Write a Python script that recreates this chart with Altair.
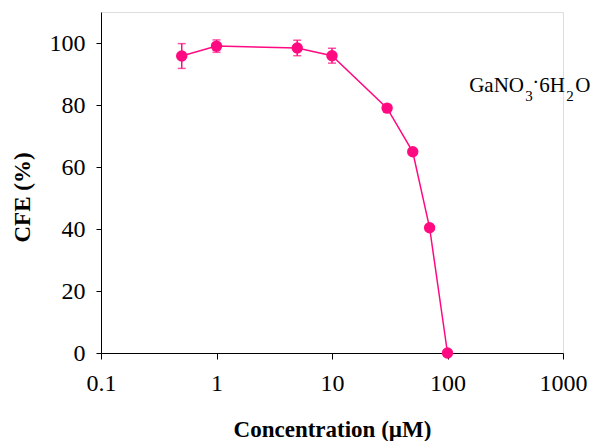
import altair as alt
import pandas as pd

# Colony forming efficiency versus gallium nitrate concentration
concentration = [0.5, 1, 5, 10, 30, 50, 70, 100]
cfe = [95.8, 99.0, 98.4, 95.9, 79.0, 64.9, 40.4, 0.0]
err = [4.0, 2.0, 2.5, 2.4, 0, 0, 0, 0]

x_ticks = [0.1, 1, 10, 100, 1000]
y_ticks = [0, 20, 40, 60, 80, 100]

PINK = "#FF0A80"
FONT = "Liberation Serif"

df = pd.DataFrame({"conc": concentration, "cfe": cfe, "err": err})
df["lo"] = df["cfe"] - df["err"]
df["hi"] = df["cfe"] + df["err"]
df_err = df[df["err"] > 0]

x_scale = alt.Scale(type="log", domain=[0.1, 1000], nice=False)
y_scale = alt.Scale(domain=[0, 110], nice=False, zero=True)

x_axis = alt.Axis(
    title="Concentration (µM)",
    values=x_ticks,
    format="~g",
    tickSize=6,
    labelPadding=12,
    labelFlush=False,
    labelOverlap=False,
    titleBaseline="alphabetic",
    titleY=83,
)
y_axis = alt.Axis(
    title="CFE (%)",
    values=y_ticks,
    tickSize=5,
    labelPadding=11,
    labelFlush=False,
    labelOverlap=False,
    titleAngle=-90,
    titleBaseline="alphabetic",
    titleAlign="center",
    titleX=-72,
    titleY=185,
)

base = alt.Chart(df)

line = base.mark_line(color=PINK, strokeWidth=1.5).encode(
    x=alt.X("conc:Q", scale=x_scale, axis=x_axis),
    y=alt.Y("cfe:Q", scale=y_scale, axis=y_axis),
)

bars = alt.Chart(df_err).mark_rule(color=PINK, strokeWidth=1.5).encode(
    x="conc:Q", y="lo:Q", y2="hi:Q"
)
caps_hi = alt.Chart(df_err).mark_tick(
    color=PINK, orient="horizontal", size=8, thickness=1.5
).encode(x="conc:Q", y="hi:Q")
caps_lo = alt.Chart(df_err).mark_tick(
    color=PINK, orient="horizontal", size=8, thickness=1.5
).encode(x="conc:Q", y="lo:Q")

points = base.mark_circle(color=PINK, size=130, opacity=1).encode(
    x="conc:Q", y="cfe:Q"
)

# Compound label with subscripts, anchored in data coordinates
label_pos = pd.DataFrame({"conc": [154], "cfe": [84.2]})
lab = alt.Chart(label_pos)
pieces = [
    ("GaNO", 21, 0, 0),
    ("3", 15, 56, 9),
    ("·", 21, 63, -3),
    ("6H", 21, 70, 0),
    ("2", 15, 97, 9),
    ("O", 21, 106, 0),
]
label_layers = [
    lab.mark_text(
        text=t, font=FONT, fontSize=fs, align="left", baseline="alphabetic",
        dx=dx, dy=dy, color="black",
    ).encode(x="conc:Q", y="cfe:Q")
    for t, fs, dx, dy in pieces
]

chart = (
    alt.layer(line, bars, caps_hi, caps_lo, points, *label_layers)
    .properties(
        width=462,
        height=341,
        autosize=alt.AutoSizeParams(type="none"),
        padding={"left": 101, "top": 12, "right": 29, "bottom": 88},
    )
    .configure_view(stroke=None)
    .configure(background="white")
    .configure_axis(
        grid=False,
        labelFont=FONT,
        labelFontSize=24,
        labelColor="black",
        titleFont=FONT,
        titleFontSize=23,
        titleFontWeight="bold",
        titleColor="black",
        domainColor="black",
        tickColor="black",
    )
)

chart.save("out.html", embed_options={"renderer": "svg", "actions": False})
